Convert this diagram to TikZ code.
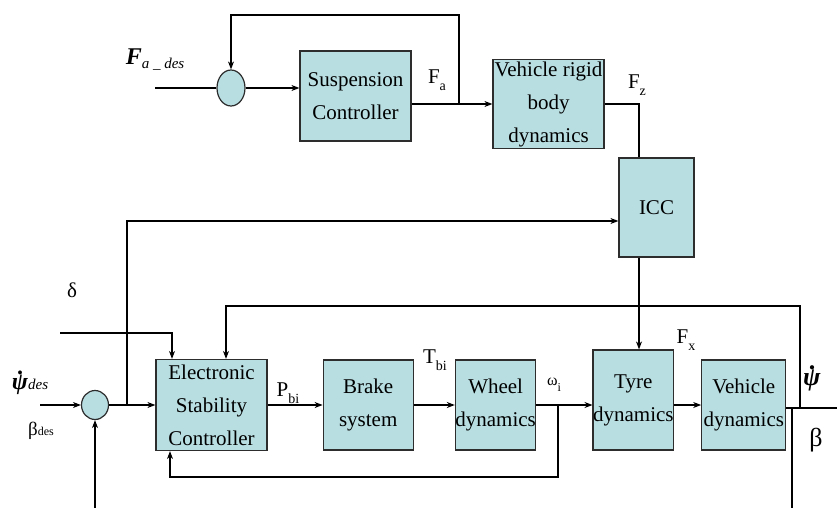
\documentclass[tikz,border=0pt]{standalone}
\usepackage{fontspec}
\setmainfont{Liberation Serif}
\usetikzlibrary{arrows,arrows.meta,shapes,positioning,calc}
\definecolor{boxfill}{RGB}{184,222,226}
\definecolor{boxline}{RGB}{45,45,45}
\newcommand{\lblsub}[2]{#1\raisebox{-0.35em}{\fontsize{14}{14}\selectfont #2}}
\newcommand{\dotpsi}{\ooalign{\textbf{\textit{ψ}}\cr\hidewidth\raisebox{0.62em}{\textbf{.}}\hidewidth}}

\begin{document}
\begin{tikzpicture}[x=1pt,y=-1pt,
    block/.style={rectangle,draw=boxline,fill=boxfill,line width=1.2pt,inner sep=0pt,align=center,font=\fontsize{21}{33}\selectfont},
    summer/.style={ellipse,draw=boxline,fill=boxfill,line width=1.2pt,inner sep=0pt},
    arrow/.style={line width=1.2pt,->,>={Stealth[length=8pt,width=6pt]}},
    wire/.style={line width=1.2pt},
    lbl/.style={font=\fontsize{21}{21}\selectfont,inner sep=0pt}
]
    \useasboundingbox (0,0) rectangle (837,508);

    \node[summer,minimum width=28pt,minimum height=36pt] (sum1) at (231,88) {};
    \node[block,minimum width=111pt,minimum height=90pt] (susp) at (355.5,96) {Suspension\\Controller};
    \node[block,minimum width=111pt,minimum height=89pt] (rigid) at (548.5,104) {Vehicle rigid\\body\\dynamics};
    \node[block,minimum width=75pt,minimum height=99pt] (icc) at (656.5,207.5) {ICC};

    \node[summer,minimum width=27pt,minimum height=29pt] (sum2) at (95,405) {};
    \node[block,minimum width=111pt,minimum height=91pt] (esc) at (211.5,405) {Electronic\\Stability\\Controller};
    \node[block,minimum width=90pt,minimum height=90pt,right=55pt of esc] (brake) {Brake\\system};
    \node[block,minimum width=77pt,minimum height=90pt,right=41pt of brake] (wheel) {Wheel\\dynamics};
    \node[block,minimum width=76pt,minimum height=100pt,right=56pt of wheel,yshift=5pt] (tyre) {Tyre\\dynamics};
    \node[block,minimum width=84pt,minimum height=90pt,right=27pt of tyre,yshift=-5pt] (vdyn) {Vehicle\\dynamics};

    \node[lbl] (fades) at (155,60) {{\fontsize{24}{24}\selectfont\textbf{\textit{F}}}\raisebox{-0.2em}{\fontsize{15}{15}\selectfont\textit{a \_ des}}};
    \node[lbl] (fa) at (437,80) {\lblsub{F}{a}};
    \node[lbl] (fz) at (637,85) {\lblsub{F}{z}};
    \node[lbl] (delta) at (72,290) {δ};
    \node[lbl] (psides) at (30,382) {{\fontsize{24}{24}\selectfont\dotpsi}{\fontsize{15}{15}\selectfont\textit{des}}};
    \node[lbl] (betades) at (41,431) {{\fontsize{19}{19}\selectfont β}{\fontsize{12}{12}\selectfont des}};
    \node[lbl] (pbi) at (288,393) {\lblsub{P}{bi}};
    \node[lbl] (tbi) at (435,360) {\lblsub{T}{bi}};
    \node[lbl] (omegai) at (554,385) {{\fontsize{16}{16}\selectfont ω\raisebox{-0.35em}{\fontsize{12}{12}\selectfont i}}};
    \node[lbl] (fx) at (686,340) {\lblsub{F}{x}};
    \node[lbl] (psiout) at (812,378) {{\fontsize{26}{26}\selectfont\dotpsi}};
    \node[lbl] (betaout) at (816,440) {{\fontsize{26}{26}\selectfont β}};

    \coordinate (fastart) at (155,88);
    \coordinate (fatap) at (459,104);
    \coordinate (fztap) at (639,104);
    \coordinate (icctap) at (127,405);
    \coordinate (psistart) at (40,405);
    \coordinate (deltastart) at (60,333);
    \coordinate (omegatap) at (558,405);
    \coordinate (psitap) at (800,408);
    \coordinate (betatap) at (792,408);
    \coordinate (betaend) at (792,508);
    \coordinate (fbstart) at (95,508);
    \coordinate (out) at (837,408);

    \draw[wire] (fastart) -- (sum1);
    \draw[arrow] (sum1) -- (sum1 -| susp.west);
    \draw[arrow] (susp.east |- fatap) -- (rigid.west |- fatap);
    \draw[arrow] (fatap) -- ++(0,-89) -| (sum1.north);
    \draw[wire] (rigid.east) -- (fztap) -- (fztap |- icc.north);
    \draw[arrow] (fztap |- icc.south) -- (fztap |- tyre.north);
    \draw[arrow] (icctap) |- ([yshift=-13.5pt]icc.west);

    \draw[arrow] (psistart) -- (sum2);
    \draw[arrow] (fbstart) -- (sum2);
    \draw[arrow] (sum2) -- (esc);
    \draw[arrow] (esc) -- (brake);
    \draw[arrow] (brake) -- (wheel);
    \draw[arrow] (wheel) -- (wheel -| tyre.west);
    \draw[arrow] (tyre.east |- vdyn) -- (vdyn);
    \draw[wire] (vdyn.east |- out) -- (out);
    \draw[wire] (betatap) -- (betaend);

    \draw[arrow] (deltastart) -| ([xshift=-39.5pt]esc.north);
    \draw[arrow] (psitap) -- ++(0,-102) -| ([xshift=14.5pt]esc.north);
    \draw[arrow] (omegatap) -- ++(0,72) -| ([xshift=-41.5pt]esc.south);
\end{tikzpicture}
\end{document}
